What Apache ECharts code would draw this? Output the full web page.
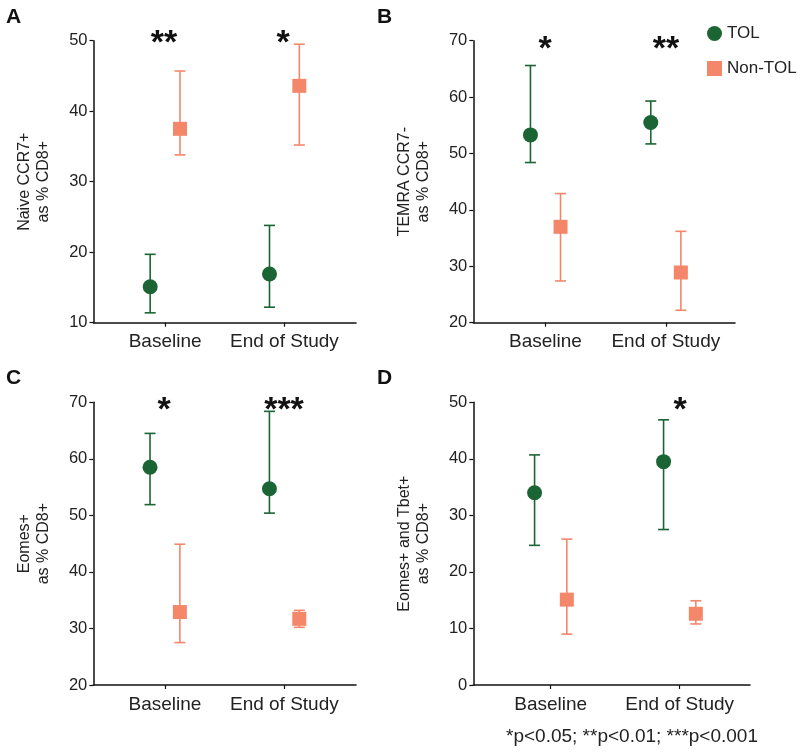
<!DOCTYPE html>
<html>
<head>
<meta charset="utf-8">
<script src="https://cdn.jsdelivr.net/npm/echarts@6/dist/echarts.min.js"></script>
<style>html,body{margin:0;padding:0;background:#fff;}#c{width:800px;height:754px;}</style>
</head>
<body>
<div id="c"></div>
<script>
// ---- data ----
const categories = ['Baseline', 'End of Study'];
const seriesNames = ['TOL', 'Non-TOL'];
const yTitles = ['Naive CCR7+\nas % CD8+', 'TEMRA CCR7-\nas % CD8+', 'Eomes+\nas % CD8+', 'Eomes+ and Tbet+\nas % CD8+'];
const panelLetters = ['A', 'B', 'C', 'D'];
// mean, low, high per category
const tolMean = [[15.1, 16.9], [53.3, 55.5], [58.5, 54.7], [34.0, 39.5]];
const tolLow  = [[11.4, 12.2], [48.4, 51.7], [51.9, 50.4], [24.7, 27.5]];
const tolHigh = [[19.7, 23.8], [65.6, 59.3], [64.5, 68.4], [40.7, 46.9]];
const nonMean = [[37.5, 43.6], [37.0, 28.9], [32.9, 31.7], [15.1, 12.6]];
const nonLow  = [[33.8, 35.2], [27.4, 22.2], [27.5, 30.2], [9.0, 10.8]];
const nonHigh = [[45.7, 49.5], [42.9, 36.2], [44.9, 33.2], [25.8, 14.9]];
const yMin = [10, 20, 20, 0];
const yMax = [50, 70, 70, 50];
const stars = [['**', '*'], ['*', '**'], ['*', '***'], ['', '*']];
const footnote = '*p<0.05; **p<0.01; ***p<0.001';

// ---- layout ----
const GREEN = '#1b6535';
const SALMON = '#f4876a';
const FONT = 'Arial, "Liberation Sans", sans-serif';
const grids = [
  {left: 93.5, top: 40.7, width: 262.5, height: 282},
  {left: 473.3, top: 40.7, width: 261.7, height: 282},
  {left: 93.3, top: 402.3, width: 262.7, height: 282.7},
  {left: 473.3, top: 402.3, width: 276.7, height: 282.7}
];
const xRange = [[0.4, 2.6], [0.4, 2.575], [0.4, 2.6], [0.4, 2.545]];
const OFF = 0.125;

const option = {
  animation: false,
  backgroundColor: '#fff',
  textStyle: {fontFamily: FONT},
  grid: grids,
  xAxis: [], yAxis: [], series: [], graphic: [],
  legend: {
    data: [{name: 'TOL', icon: 'circle'}, {name: 'Non-TOL', icon: 'rect'}],
    orient: 'vertical', left: 702, top: 20,
    itemWidth: 15, itemHeight: 15, itemGap: 18,
    textStyle: {fontSize: 17, color: '#222', fontFamily: FONT}
  }
};

function errRender(color) {
  return function (params, api) {
    const x = api.value(0), lo = api.value(1), hi = api.value(2);
    const p1 = api.coord([x, lo]), p2 = api.coord([x, hi]);
    const w = 5.5;
    const st = {stroke: color, lineWidth: 1.6};
    return {type: 'group', children: [
      {type: 'line', shape: {x1: p1[0], y1: p1[1], x2: p2[0], y2: p2[1]}, style: st},
      {type: 'line', shape: {x1: p1[0] - w, y1: p1[1], x2: p1[0] + w, y2: p1[1]}, style: st},
      {type: 'line', shape: {x1: p2[0] - w, y1: p2[1], x2: p2[0] + w, y2: p2[1]}, style: st}
    ]};
  };
}

for (let i = 0; i < 4; i++) {
  option.xAxis.push({
    type: 'value', gridIndex: i, min: xRange[i][0], max: xRange[i][1],
    splitLine: {show: false},
    axisLine: {show: true, lineStyle: {color: '#111', width: 1.5}},
    axisTick: {show: true, customValues: [1, 2], length: 4, lineStyle: {color: '#111', width: 1.2}},
    axisLabel: {show: true, customValues: [1, 2], formatter: v => categories[Math.round(v) - 1] || '',
      fontSize: 19, color: '#222', margin: 10, fontFamily: FONT}
  });
  option.yAxis.push({
    type: 'value', gridIndex: i, min: yMin[i], max: yMax[i], interval: 10,
    splitLine: {show: false},
    axisLine: {show: true, lineStyle: {color: '#111', width: 1.5}},
    axisTick: {show: true, length: 4, lineStyle: {color: '#111', width: 1.2}},
    axisLabel: {fontSize: 16.5, color: '#222', margin: 6, fontFamily: FONT},
    name: yTitles[i], nameLocation: 'middle', nameGap: 40,
    nameTextStyle: {fontSize: 16, color: '#222', lineHeight: 19, fontFamily: FONT}
  });
  const tolErr = [], nonErr = [], tolPts = [], nonPts = [];
  for (let c = 0; c < categories.length; c++) {
    tolErr.push([c + 1 - OFF, tolLow[i][c], tolHigh[i][c]]);
    nonErr.push([c + 1 + OFF, nonLow[i][c], nonHigh[i][c]]);
    tolPts.push([c + 1 - OFF, tolMean[i][c]]);
    nonPts.push([c + 1 + OFF, nonMean[i][c]]);
  }
  option.series.push(
    {type: 'custom', name: 'TOL', xAxisIndex: i, yAxisIndex: i, renderItem: errRender(GREEN), data: tolErr, itemStyle: {color: GREEN}, z: 2},
    {type: 'custom', name: 'Non-TOL', xAxisIndex: i, yAxisIndex: i, renderItem: errRender(SALMON), data: nonErr, itemStyle: {color: SALMON}, z: 2},
    {type: 'scatter', name: 'TOL', xAxisIndex: i, yAxisIndex: i, symbol: 'circle', symbolSize: 15, data: tolPts, itemStyle: {color: GREEN, opacity: 1}, z: 3},
    {type: 'scatter', name: 'Non-TOL', xAxisIndex: i, yAxisIndex: i, symbol: 'rect', symbolSize: 14, data: nonPts, itemStyle: {color: SALMON, opacity: 1}, z: 3}
  );
}

// panel letters
const letterPos = [[6, 7], [377, 7], [6, 368], [377, 368]];
letterPos.forEach((p, i) => option.graphic.push({
  type: 'text', left: p[0], top: p[1],
  style: {text: panelLetters[i], fontSize: 21, fontWeight: 'bold', fill: '#111', fontFamily: FONT}
}));
// significance stars (annotation text)
const starPos = [[[164, 37], [283, 37]], [[545, 43], [666, 43]], [[164, 404], [284, 404]], [[551, 404], [680, 404]]];
stars.forEach((row, i) => row.forEach((s, c) => {
  if (!s) return;
  option.graphic.push({
    type: 'text', x: starPos[i][c][0], y: starPos[i][c][1] + 7,
    style: {text: s, fontSize: 34, fontWeight: 'bold', fill: '#111', textAlign: 'center', textVerticalAlign: 'middle', fontFamily: FONT}
  });
}));
option.graphic.push({
  type: 'text', x: 632, y: 737,
  style: {text: footnote, fontSize: 19, fill: '#222', textAlign: 'center', textVerticalAlign: 'middle', fontFamily: FONT}
});

const chart = echarts.init(document.getElementById('c'), null, {renderer: 'canvas'});
chart.setOption(option);
</script>
</body>
</html>
